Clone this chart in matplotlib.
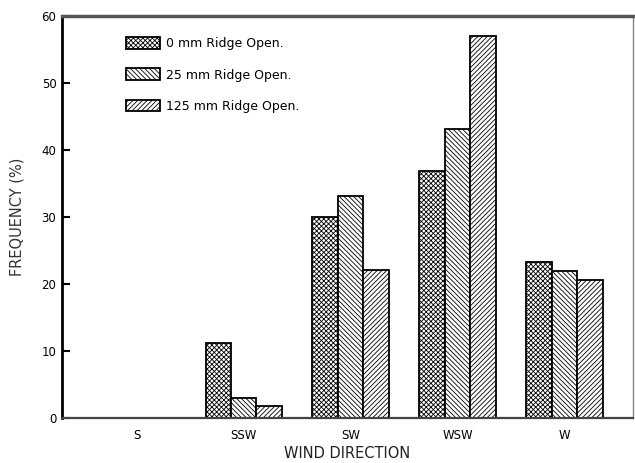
import numpy as np
import matplotlib
matplotlib.use('Agg')
import matplotlib.pyplot as plt

directions = ['S', 'SSW', 'SW', 'WSW', 'W']
open_0mm = [0, 11.1, 30.0, 36.8, 23.3]
open_25mm = [0, 2.9, 33.2, 43.1, 21.9]
open_125mm = [0, 1.7, 22.0, 57.1, 20.5]
labels = ['0 mm Ridge Open.', '25 mm Ridge Open.', '125 mm Ridge Open.']
hatches = ['xxxxxxx', '\\\\\\\\\\\\\\', '///////']

plt.rcParams['font.family'] = 'DejaVu Sans'
plt.rcParams['hatch.linewidth'] = 0.6

f = plt.figure(figsize=(6.35, 4.63), dpi=100)
ax = f.add_axes([0.0976, 0.098, 0.899, 0.867])

x = np.arange(len(directions))
w = 0.238
for i, vals in enumerate([open_0mm, open_25mm, open_125mm]):
    ax.bar(x + (i - 1) * w, vals, w,
           color='white', edgecolor='black', linewidth=1.3,
           hatch=hatches[i], label=labels[i])

ax.set_xlim(-0.70, 4.64)
ax.set_ylim(0, 60)
ax.set_yticks(np.arange(0, 61, 10))
ax.set_xticks(x)
ax.set_xticklabels(directions, fontsize=8.5)
ax.tick_params(axis='y', direction='in', length=6, width=1.5, labelsize=8.5, pad=4)
ax.tick_params(axis='x', length=0, pad=8)

ax.spines['left'].set_linewidth(2.0)
ax.spines['bottom'].set_linewidth(1.6)
ax.spines['bottom'].set_color('#444444')
ax.spines['top'].set_linewidth(2.5)
ax.spines['top'].set_color('#555555')
ax.spines['right'].set_linewidth(1.0)
ax.spines['right'].set_color('#888888')

ax.set_ylabel('FREQUENCY (%)', fontsize=10.5, color='#333333', labelpad=12)
ax.set_xlabel('WIND DIRECTION', fontsize=10.5, color='#222222', labelpad=3)

ax.legend(loc='upper left', bbox_to_anchor=(0.104, 0.96), frameon=False,
          fontsize=9, labelspacing=1.45, handlelength=2.7, handleheight=1.05,
          handletextpad=0.5, borderaxespad=0)

f.savefig('out.png', dpi=100)
